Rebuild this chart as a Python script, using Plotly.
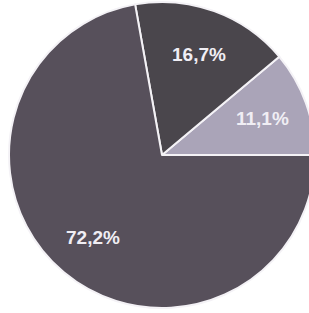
import math
import plotly.graph_objects as go

labels = ["A", "B", "C"]
values = [11.1, 16.7, 72.2]
texts = ["11,1%", "16,7%", "72,2%"]
colors = ["#aaa4b8", "#4a464c", "#57505b"]

W, H = 318, 313
cx, cy, r = 162, 155, 153

fig = go.Figure(go.Pie(
    labels=labels, values=values, textinfo="none",
    sort=False, direction="counterclockwise", rotation=50,
    marker=dict(colors=colors, line=dict(color="#f4f2f6", width=2)),
    domain=dict(x=[(cx - r) / W, (cx + r) / W], y=[(H - cy - r) / H, (H - cy + r) / H]),
    showlegend=False, hoverinfo="skip",
))

# label positions derived from the slice angles (start at 3 o'clock, counterclockwise)
total = sum(values)
acc = 0.0
annotations = []
for v, t in zip(values, texts):
    mid = (acc + v / 2) / total * 2 * math.pi
    acc += v
    px = cx + 0.7 * r * math.cos(mid)
    py = cy - 0.7 * r * math.sin(mid)
    annotations.append(dict(x=px / W, y=(H - py) / H, xref="paper", yref="paper",
                            xanchor="center", yanchor="middle",
                            text=t, showarrow=False,
                            font=dict(family="Liberation Sans, Arial", size=19,
                                      color="#f0eef4", weight="bold")))

fig.update_layout(width=W, height=H, margin=dict(l=0, r=0, t=0, b=0),
                  paper_bgcolor="white", plot_bgcolor="white", autosize=False,
                  annotations=annotations)
fig.write_html("out.html", config={"displayModeBar": False},
               post_script="document.body.style.margin='0';document.body.style.overflow='hidden';document.documentElement.style.overflow='hidden';")
